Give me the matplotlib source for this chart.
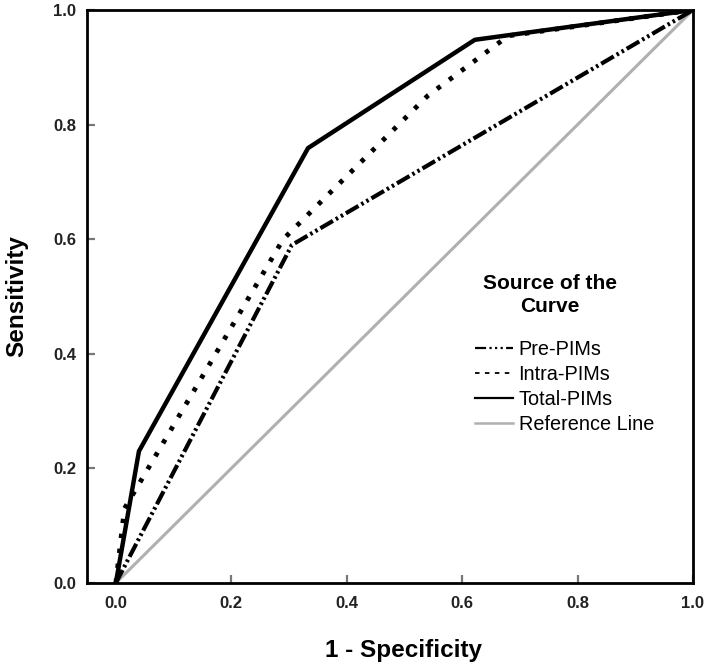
import matplotlib
matplotlib.use("Agg")
import matplotlib.pyplot as plt
from matplotlib.lines import Line2D

plt.rcParams["font.family"] = ["Liberation Sans", "DejaVu Sans"]

# ROC coordinates
pre_fpr = [0.0, 0.305, 1.0]
pre_tpr = [0.0, 0.590, 1.0]

intra_fpr = [0.0, 0.015, 0.29, 0.54, 0.68, 1.0]
intra_tpr = [0.0, 0.130, 0.60, 0.85, 0.955, 1.0]

total_fpr = [0.0, 0.040, 0.333, 0.622, 1.0]
total_tpr = [0.0, 0.230, 0.759, 0.948, 1.0]

ref_x = [0.0, 1.0]
ref_y = [0.0, 1.0]

ticks = [0.0, 0.2, 0.4, 0.6, 0.8, 1.0]
tick_labels = ["0.0", "0.2", "0.4", "0.6", "0.8", "1.0"]
series_names = ["Pre-PIMs", "Intra-PIMs", "Total-PIMs", "Reference Line"]

W, H = 707, 664
fig = plt.figure(figsize=(W / 100, H / 100), dpi=100)
ax = fig.add_axes([87 / W, (H - 583) / H, (693 - 87) / W, (583 - 10) / H])

dashdotdot = (0, (3.5, 0.8, 0.6, 0.8, 0.6, 0.8))

ax.plot(ref_x, ref_y, color="#b0b0b0", lw=2.2, zorder=2)
ax.plot(pre_fpr, pre_tpr, color="black", lw=3.0, linestyle=dashdotdot, zorder=3)
ax.plot(intra_fpr, intra_tpr, color="black", lw=3.5, linestyle=(0, (0.9, 2.2)), zorder=3)
ax.plot(total_fpr, total_tpr, color="black", lw=3.2, zorder=4)

ax.set_xlim(-0.05, 1.0)
ax.set_ylim(0.0, 1.0)
ax.set_xticks(ticks)
ax.set_xticklabels(tick_labels)
ax.set_yticks(ticks)
ax.set_yticklabels(tick_labels)
ax.tick_params(direction="in", length=6, width=1.6, color="#777777",
               labelsize=12, labelcolor="#222222", pad=8)
ax.tick_params(axis="x", pad=9.5)
for lab in ax.get_xticklabels() + ax.get_yticklabels():
    lab.set_fontweight("bold")

for side in ["left", "right", "top", "bottom"]:
    ax.spines[side].set_linewidth(2.0)
    ax.spines[side].set_color("black")

ax.set_xlabel("1 - Specificity", fontsize=17.5, fontweight="bold")
ax.xaxis.set_label_coords((404 - 87) / 606, -0.098)
ax.set_ylabel("Sensitivity", fontsize=17.5, fontweight="bold")
ax.yaxis.set_label_coords(-0.097, 0.5)

# legend title drawn on its own so the gap below it matches the reference
ax.text((550 - 87) / 606, (583 - 274) / 573, "Source of the\nCurve",
        transform=ax.transAxes, ha="center", va="top", multialignment="center",
        fontsize=15, fontweight="bold", linespacing=1.25)

handles = [
    Line2D([], [], color="black", lw=1.6, linestyle=(0, (5, 1.5, 1, 1.5, 1, 1.5, 1, 1.5))),
    Line2D([], [], color="black", lw=1.3, linestyle=(0, (2.5, 3))),
    Line2D([], [], color="black", lw=1.6),
    Line2D([], [], color="#b0b0b0", lw=1.8),
]
leg = ax.legend(handles, series_names, loc="upper left",
                bbox_to_anchor=((457 - 87) / 606, (583 - 322) / 573),
                frameon=False, fontsize=14.3,
                handlelength=1.9, handletextpad=0.3, labelspacing=0.3)

fig.savefig("out.png", dpi=100)
